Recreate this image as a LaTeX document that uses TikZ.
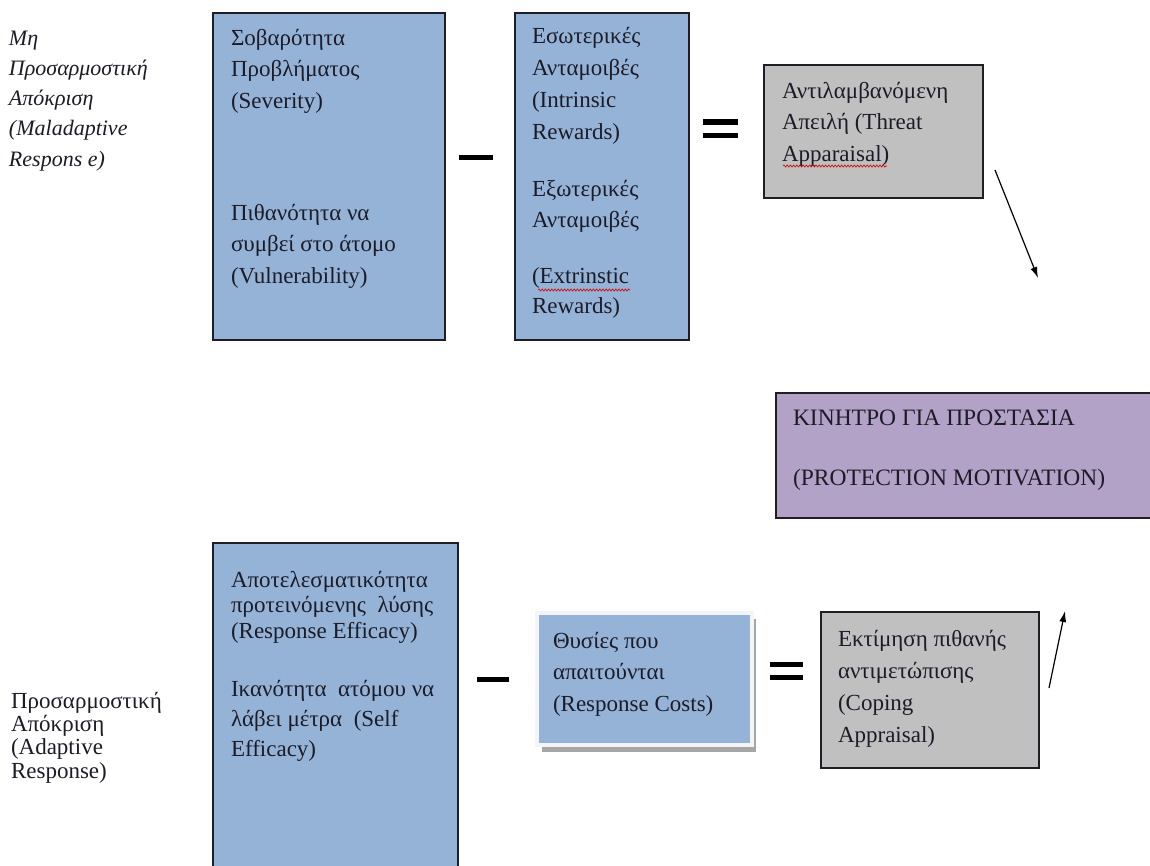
\documentclass[tikz,border=0pt]{standalone}
\usepackage{fontspec}
\setmainfont{Liberation Serif}
\usetikzlibrary{arrows.meta,decorations.pathmorphing}
\definecolor{boxblue}{HTML}{95B3D7}
\definecolor{boxgray}{HTML}{C0C0C0}
\definecolor{boxpurple}{HTML}{B3A2C7}
\definecolor{edgecol}{HTML}{1E1E24}
\definecolor{ink}{HTML}{1C1C28}
\newcommand{\topstrut}{\rule{0pt}{19pt}}
\tikzset{
  panel/.style={draw=edgecol, line width=1.7pt, inner sep=0pt, outer sep=0pt, anchor=north west},
  txt/.style={anchor=north west, inner sep=0pt, outer sep=0pt, align=left, text=ink},
  bar/.style={fill=black},
  arr/.style={line width=1.2pt, -{Latex[length=11pt,width=7pt]}},
  squig/.style={draw=red!85!black, line width=0.6pt, decorate, decoration={snake, amplitude=1.1pt, segment length=3.2pt}}
}
\begin{document}
\begin{tikzpicture}[x=1pt,y=-1pt]
\useasboundingbox (0,0) rectangle (1150,865);
\fill[white] (0,0) rectangle (1150,865);
\begin{scope}
\clip (0,0) rectangle (1150,865);

% left labels
\node[txt, font=\itshape\fontsize{22}{30.3}\selectfont] (lblmal) at (9,26)
  {\topstrut Μη\\Προσαρμοστική\\Απόκριση\\(Maladaptive\\Respons e)};
\node[txt, font=\fontsize{23}{23.4}\selectfont] (lbladp) at (11,689)
  {\topstrut Προσαρμοστική\\Απόκριση\\(Adaptive\\Response)};

% top row
\node[panel, fill=boxblue, minimum width=232pt, minimum height=327pt] (sev) at (213,13) {};
\node[txt, font=\fontsize{23}{31.5}\selectfont] (sevA) at (231,26)
  {\topstrut Σοβαρότητα\\Προβλήματος\\(Severity)};
\node[txt, font=\fontsize{23}{31.5}\selectfont] (sevB) at (231,201)
  {\topstrut Πιθανότητα να\\συμβεί στο άτομο\\(Vulnerability)};

\fill[bar] (459,155) rectangle (493,159.5);

\node[panel, fill=boxblue, minimum width=174pt, minimum height=327pt] (rew) at (515,13) {};
\node[txt, font=\fontsize{23}{32}\selectfont] (rewA) at (532,24)
  {\topstrut Εσωτερικές\\Ανταμοιβές\\(Intrinsic\\Rewards)};
\node[txt, font=\fontsize{23}{31}\selectfont] (rewB) at (532,177)
  {\topstrut Εξωτερικές\\Ανταμοιβές};
\node[txt, font=\fontsize{23}{30}\selectfont] (rewC) at (532,264)
  {\topstrut (Extrinstic\\Rewards)};
\draw[squig] (538,290) -- (630,290);

\fill[bar] (703,119) rectangle (738,124.5);
\fill[bar] (703,132.5) rectangle (738,138);

\node[panel, fill=boxgray, minimum width=219pt, minimum height=133pt] (thr) at (764,65) {};
\node[txt, font=\fontsize{23}{31.5}\selectfont] (thrT) at (782,79)
  {\topstrut Αντιλαμβανόμενη\\Απειλή (Threat\\Apparaisal)};
\draw[squig] (783,166) -- (887,166);

% middle
\node[panel, fill=boxpurple, minimum width=400pt, minimum height=125pt] (pm) at (776,393) {};
\node[txt, font=\fontsize{23.5}{60}\selectfont] (pmT) at (793,406)
  {\topstrut ΚΙΝΗΤΡΟ ΓΙΑ ΠΡΟΣΤΑΣΙΑ\\(PROTECTION MOTIVATION)};

\coordinate (t1) at (995,170);
\coordinate (t2) at (1038,278);
\draw[arr] (t1) -- (t2);

% bottom row
\node[panel, fill=boxblue, minimum width=245pt, minimum height=340pt] (eff) at (213,543) {};
\node[txt, font=\fontsize{23}{25.5}\selectfont] (effA) at (231,568)
  {\topstrut Αποτελεσματικότητα\\προτεινόμενης\ \ λύσης\\(Response Efficacy)};
\node[txt, font=\fontsize{23}{30}\selectfont] (effB) at (231,677)
  {\topstrut Ικανότητα\ \ ατόμου να\\λάβει μέτρα\ \ (Self\\Efficacy)};

\fill[bar] (477,677) rectangle (509,681.5);

\fill[gray!70] (542,619) rectangle (756,752);
\fill[white!88!boxblue] (535,611) rectangle (754,747);
\node[inner sep=0pt, outer sep=0pt, anchor=north west, fill=boxblue, minimum width=211pt, minimum height=128pt] (cost) at (539,615) {};
\node[txt, font=\fontsize{23}{31.5}\selectfont] (costT) at (553,629)
  {\topstrut Θυσίες που\\απαιτούνται\\(Response Costs)};

\fill[bar] (770,662) rectangle (803,667);
\fill[bar] (770,675) rectangle (803,680);

\node[panel, fill=boxgray, minimum width=218pt, minimum height=156pt] (cop) at (821,612) {};
\node[txt, font=\fontsize{23}{32}\selectfont] (copT) at (838,627)
  {\topstrut Εκτίμηση πιθανής\\αντιμετώπισης\\(Coping\\Appraisal)};

\coordinate (c1) at (1049,688);
\coordinate (c2) at (1065,611);
\draw[arr] (c1) -- (c2);
\end{scope}
\end{tikzpicture}
\end{document}
